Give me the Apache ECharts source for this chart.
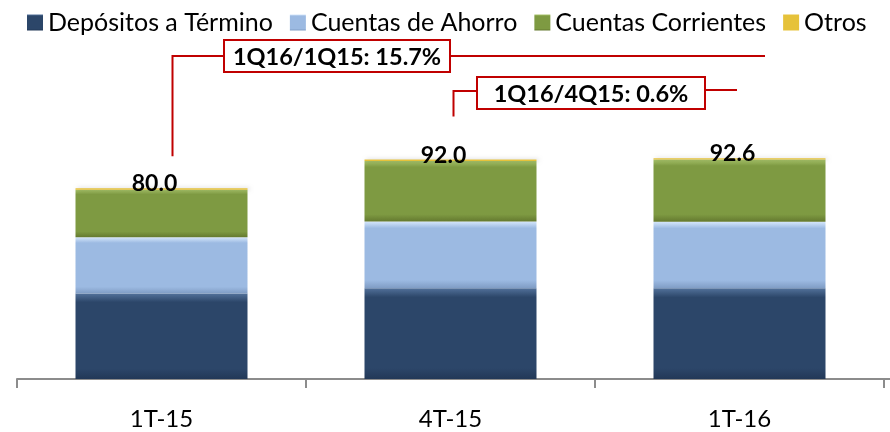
<!DOCTYPE html>
<html>
<head>
<meta charset="utf-8">
<script src="https://cdn.jsdelivr.net/npm/echarts@6/dist/echarts.min.js"></script>
<style>
  html, body { margin: 0; padding: 0; background: #ffffff; }
  #chart { width: 890px; height: 432px; }
</style>
</head>
<body>
<div id="chart"></div>
<script>
// Deposits by type, in billions
const categories = ['1T-15', '4T-15', '1T-16'];
const depositosTermino = [35.8, 38.1, 38.0];
const cuentasAhorro = [23.6, 27.9, 27.9];
const cuentasCorrientes = [20.0, 25.4, 26.1];
const otros = [0.6, 0.6, 0.6];
const seriesNames = ['Depósitos a Término', 'Cuentas de Ahorro', 'Cuentas Corrientes', 'Otros'];
const growthLabels = ['1Q16/1Q15: 15.7%', '1Q16/4Q15: 0.6%'];

const totals = categories.map((_, i) =>
  depositosTermino[i] + cuentasAhorro[i] + cuentasCorrientes[i] + otros[i]);

const FONT = 'Lato, "Noto Sans", sans-serif';

function bevel(light, base, dark) {
  return new echarts.graphic.LinearGradient(0, 0, 0, 1, [
    { offset: 0, color: light },
    { offset: 0.1, color: base },
    { offset: 0.88, color: base },
    { offset: 1, color: dark }
  ]);
}

const palette = [
  { solid: '#2c4669', fill: bevel('#52719a', '#2c4669', '#223857') },
  { solid: '#9cbae2', fill: bevel('#d4e6fb', '#9cbae2', '#7f9cc4') },
  { solid: '#7e9a42', fill: bevel('#a8c46a', '#7e9a42', '#64792f') },
  { solid: '#e6c23a', fill: '#e6c23a' }
];

const seriesData = [depositosTermino, cuentasAhorro, cuentasCorrientes, otros];

const chart = echarts.init(document.getElementById('chart'), null, { renderer: 'canvas' });

const series = seriesData.map((data, k) => ({
  name: seriesNames[k],
  type: 'bar',
  stack: 'total',
  barWidth: 172,
  data: data,
  itemStyle: {
    color: palette[k].fill,
    shadowColor: 'rgba(0,0,0,0.25)',
    shadowBlur: 4,
    shadowOffsetX: 2,
    shadowOffsetY: 0
  },
  label: k === 3 ? {
    show: true,
    position: 'top',
    distance: -7,
    offset: [-7, 0],
    formatter: p => totals[p.dataIndex].toFixed(1),
    fontFamily: FONT,
    fontWeight: 'bold',
    fontSize: 23,
    color: '#000000'
  } : { show: false }
}));

chart.setOption({
  animation: false,
  color: palette.map(p => p.solid),
  legend: {
    left: 22,
    top: 5,
    padding: 5,
    icon: 'rect',
    itemWidth: 16,
    itemHeight: 16,
    itemGap: 17,
    textStyle: { fontFamily: FONT, fontSize: 25, color: '#000000' },
    data: seriesNames
  },
  grid: { left: 17, right: 6, top: 140.5, bottom: 53 },
  xAxis: {
    type: 'category',
    data: categories,
    axisLine: { lineStyle: { color: '#8c8c8c', width: 2 } },
    axisTick: { show: true, length: 9, lineStyle: { color: '#8c8c8c', width: 2 } },
    axisLabel: { fontFamily: FONT, fontSize: 24, color: '#000000', margin: 28 }
  },
  yAxis: { type: 'value', min: 0, max: 100, show: false, splitLine: { show: false } },
  series: series
});

// Growth call-outs linked to the bars by red connectors
const RED = '#c00000';
const px = (cat, val) => chart.convertToPixel({ gridIndex: 0 }, [cat, val]);
const a1 = px(categories[0], totals[0]);
const a2 = px(categories[1], totals[1]);

const x1 = a1[0] + 11, y1Bottom = a1[1] - 32, y1 = 56;
const x2 = a2[0] + 3, y2Bottom = a2[1] - 43, y2 = 91;

const lineStyle = { stroke: RED, lineWidth: 2 };

function callout(boxX, boxY, boxW, boxH, text) {
  return {
    type: 'group',
    children: [
      { type: 'rect', shape: { x: boxX, y: boxY, width: boxW, height: boxH },
        style: { fill: '#ffffff', stroke: RED, lineWidth: 2 } },
      { type: 'text', x: boxX + boxW / 2, y: boxY + boxH / 2 + 1,
        style: { text: text, fontFamily: FONT, fontWeight: 'bold', fontSize: 23.5,
                 fill: '#000000', align: 'center', verticalAlign: 'middle' } }
    ]
  };
}

// x-axis baseline runs to the right edge of the canvas
const axisEnd = chart.convertToPixel({ gridIndex: 0 }, [categories[2], 0]);

chart.setOption({
  graphic: [
    { type: 'line', shape: { x1: axisEnd[0], y1: axisEnd[1], x2: 890, y2: axisEnd[1] },
      style: { stroke: '#8c8c8c', lineWidth: 2 } },
    { type: 'polyline', shape: { points: [[x1, y1Bottom], [x1, y1], [224, y1]] }, style: lineStyle },
    { type: 'line', shape: { x1: 450, y1: 56, x2: 765, y2: 56 }, style: lineStyle },
    callout(224, 40, 226, 32, growthLabels[0]),
    { type: 'polyline', shape: { points: [[x2, y2Bottom], [x2, y2], [477, y2]] }, style: lineStyle },
    { type: 'line', shape: { x1: 705, y1: 90, x2: 737, y2: 90 }, style: lineStyle },
    callout(477, 77, 228, 32, growthLabels[1])
  ]
});
</script>
</body>
</html>
